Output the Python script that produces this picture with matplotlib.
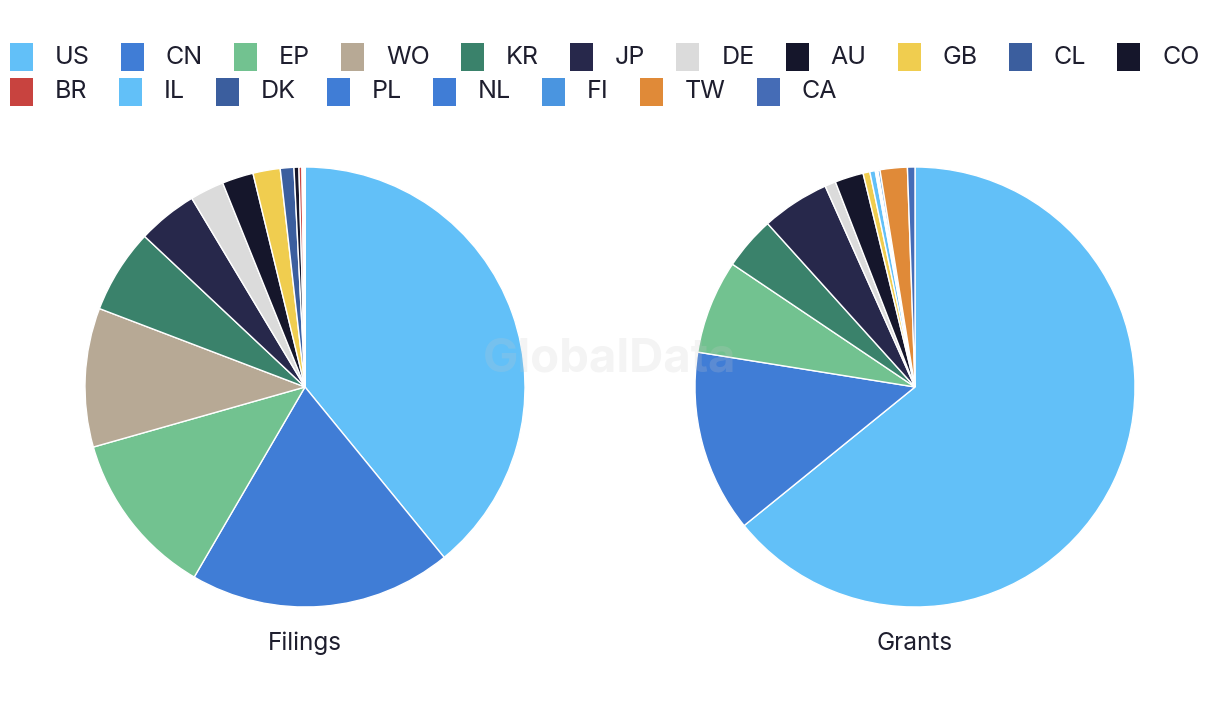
import matplotlib.pyplot as plt
from matplotlib.patches import Rectangle

plt.rcParams['font.family'] = ['Inter', 'DejaVu Sans']

codes = ['US', 'CN', 'EP', 'WO', 'KR', 'JP', 'DE', 'AU', 'GB', 'CL', 'CO',
         'BR', 'IL', 'DK', 'PL', 'NL', 'FI', 'TW', 'CA']
colors = ['#62C0F8', '#407DD6', '#72C290', '#B7A995', '#3A826B', '#27284B',
          '#DBDBDB', '#15162B', '#F0CD4F', '#3B5E9E', '#15162B', '#C8433F',
          '#62C0F8', '#3B5E9E', '#407DD6', '#407DD6', '#4A95E0', '#E08A38',
          '#456CB6']

# shares (%)
filings = [39.1, 19.3, 12.2, 10.2, 6.2, 4.4, 2.5, 2.3, 2.0, 1.0, 0.36,
           0.22, 0.08, 0.04, 0.03, 0.03, 0.02, 0.01, 0.01]
grants = [64.25, 13.4, 6.9, 0.0, 3.9, 5.0, 0.8, 2.1, 0.5, 0.0, 0.0,
          0.0, 0.4, 0.0, 0.1, 0.1, 0.15, 2.0, 0.55]

titles = ['Filings', 'Grants']
series = [filings, grants]

W, H = 1220, 720
fig = plt.figure(figsize=(W / 100, H / 100), dpi=100)

centers_x = [305, 915]
cy, r = 387, 220
for cx, vals, title in zip(centers_x, series, titles):
    ax = fig.add_axes([(cx - r) / W, (H - cy - r) / H, 2 * r / W, 2 * r / H])
    keep = [(v, c) for v, c in zip(vals, colors) if v > 0]
    ax.pie([k[0] for k in keep], colors=[k[1] for k in keep], startangle=90,
           counterclock=False, radius=1,
           wedgeprops=dict(edgecolor='white', linewidth=1))
    ax.set_xlim(-1, 1)
    ax.set_ylim(-1, 1)
    ax.set_aspect('equal')
    fig.text(cx / W, 1 - 643 / H, title, ha='center', va='center',
             fontsize=17.5, color='#1E1E2E')

# watermark
fig.text(610 / W, 1 - 360 / H, 'GlobalData', ha='center', va='center',
         fontsize=34, fontweight='bold', color='#c8c8c8', alpha=0.2)

# legend, flow layout
renderer = fig.canvas.get_renderer()
rows = [codes[:11], codes[11:]]
row_y = [57, 92]
sq_w, sq_h = 23, 28
k = 0
for row, y in zip(rows, row_y):
    x = 10
    for code in row:
        fig.patches.append(Rectangle((x / W, 1 - (y + sq_h / 2) / H), sq_w / W, sq_h / H,
                                     transform=fig.transFigure, facecolor=colors[k],
                                     edgecolor='none'))
        t = fig.text((x + 45) / W, 1 - y / H, code, ha='left', va='center',
                     fontsize=18, color='#1E1E2E')
        bb = t.get_window_extent(renderer)
        x = bb.x1 + 31
        k += 1

fig.savefig('out.png', dpi=100, facecolor='white')
